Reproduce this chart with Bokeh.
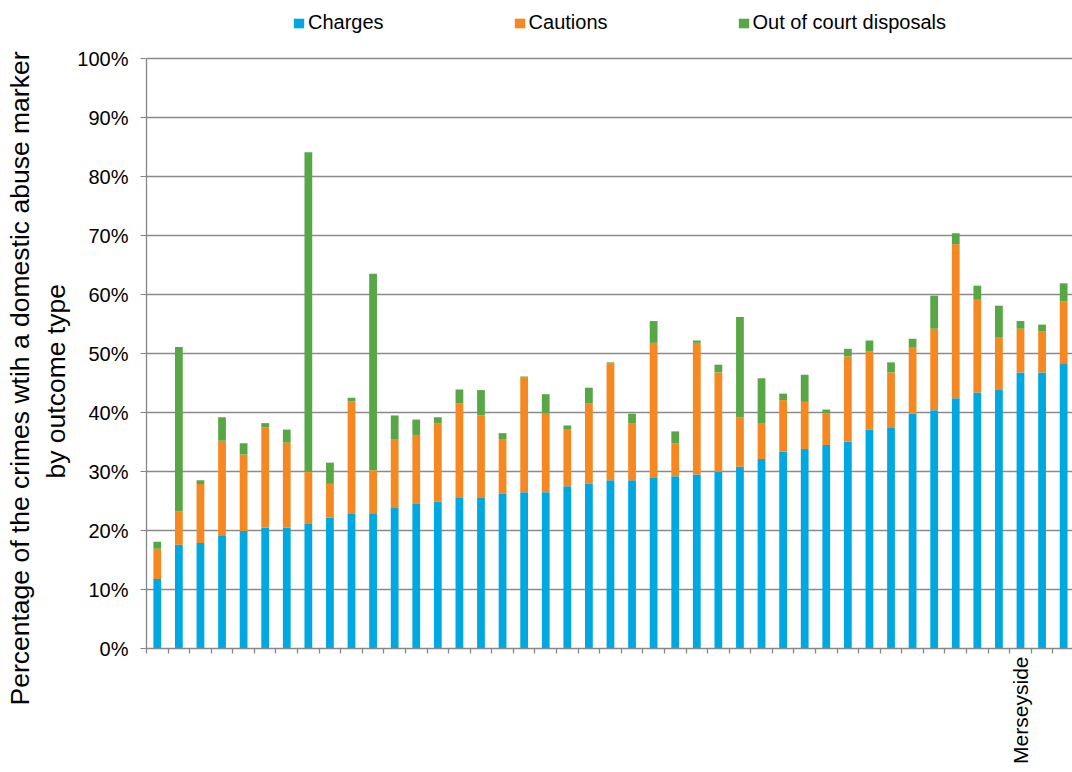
import math
from bokeh.plotting import figure
from bokeh.models import (ColumnDataSource, Range1d, FixedTicker, Legend, LegendItem, Title)
from bokeh.embed import file_html
from bokeh.resources import INLINE

# ---------------- data ----------------
series_names = ["Charges", "Cautions", "Out of court disposals"]
charges = [11.8, 17.6, 17.9, 19.2, 19.9, 20.5, 20.5, 21.1, 22.2, 22.8, 22.8, 23.8, 24.5,
           24.9, 25.5, 25.5, 26.2, 26.5, 26.5, 27.5, 27.9, 28.5, 28.5, 28.9, 29.2, 29.5,
           29.9, 30.8, 32.1, 33.4, 33.8, 34.5, 35.1, 37.1, 37.5, 39.8, 40.4, 42.4, 43.4,
           43.8, 46.8, 46.8, 48.2]
cautions = [5.1, 5.6, 10.0, 16.0, 13.0, 17.0, 14.4, 8.8, 5.7, 19.1, 7.4, 11.7, 11.7,
            13.3, 16.0, 14.0, 9.3, 19.4, 13.3, 9.7, 13.6, 19.8, 9.7, 22.9, 5.6, 22.3,
            16.9, 8.4, 6.0, 8.7, 8.0, 5.4, 14.4, 13.3, 9.3, 11.3, 13.8, 26.1, 15.7,
            9.0, 7.4, 7.0, 10.6]
out_of_court = [1.2, 27.9, 0.6, 4.0, 1.9, 0.7, 2.2, 54.2, 3.6, 0.6, 33.3, 4.0, 2.6,
                1.0, 2.4, 4.3, 1.0, 0.2, 3.3, 0.6, 2.7, 0.2, 1.6, 3.7, 2.0, 0.4,
                1.3, 17.0, 7.7, 1.1, 4.6, 0.6, 1.3, 1.8, 1.7, 1.4, 5.6, 1.9, 2.4,
                5.3, 1.3, 1.1, 3.1]
# category labels (only one force is named on the axis)
categories = [""] * 40 + ["Merseyside"] + [""] * 2
y_ticks = [0, 10, 20, 30, 40, 50, 60, 70, 80, 90, 100]
y_tick_labels = {t: f"{t}%" for t in y_ticks}
y_title_lines = ["Percentage of the crimes wtih a domestic abuse marker", "by outcome type"]
colors = ["#00A8E1", "#F58820", "#58A746"]

# ---------------- figure ----------------
FONT = "Liberation Sans"
GREY = "#868686"
n = len(charges)
px_per_cat = 21.58
top_b, left_b, bottom_b = 8, 146, 124
fig_w, fig_h = 1072, 772
frame_w = fig_w - left_b
frame_h = fig_h - bottom_b - top_b

p = figure(width=fig_w, height=fig_h, output_backend="svg", toolbar_location=None,
           x_range=Range1d(-0.5, -0.5 + frame_w / px_per_cat),
           y_range=Range1d(0, frame_h / 5.9),
           min_border_left=left_b, min_border_right=0, min_border_top=top_b,
           min_border_bottom=bottom_b)
p.outline_line_color = None
p.background_fill_color = "white"
p.border_fill_color = "white"

src = ColumnDataSource(dict(x=list(range(n)), Charges=charges, Cautions=cautions,
                            **{"Out of court disposals": out_of_court}))
rs = p.vbar_stack(series_names, x="x", width=0.36, source=src, color=colors,
                  line_color=None)

# y axis
yax = p.yaxis[0]
yax.ticker = FixedTicker(ticks=y_ticks)
yax.major_label_overrides = y_tick_labels
yax.bounds = (0, 100)
yax.axis_line_color = GREY
yax.axis_line_width = 1.3
yax.major_tick_line_color = GREY
yax.major_tick_out = 6
yax.major_tick_in = 0
yax.minor_tick_line_color = None
yax.major_label_text_font = FONT
yax.major_label_text_font_size = "20px"
yax.major_label_text_color = "black"
yax.major_label_standoff = 12

# y-axis title: two lines, each as a left-side title (line 2 nearer the plot)
for txt, off, standoff in [(y_title_lines[1], 170, 8), (y_title_lines[0], -57, 0)]:
    t = Title(text=txt, align="left", offset=off, standoff=standoff,
              text_font=FONT, text_font_size="26.5px", text_font_style="normal",
              text_color="black")
    p.add_layout(t, "left")

# x axis
xax = p.xaxis[0]
label_pos = [i for i, c in enumerate(categories) if c]
xax.ticker = FixedTicker(ticks=label_pos, minor_ticks=[i - 0.5 for i in range(n + 1)])
xax.major_label_overrides = {i: categories[i] for i in label_pos}
xax.major_label_orientation = math.pi / 2
xax.major_tick_out = 0
xax.major_tick_in = 0
xax.minor_tick_out = 5
xax.minor_tick_in = 0
xax.minor_tick_line_color = GREY
xax.minor_tick_line_width = 1.3
xax.axis_line_color = GREY
xax.axis_line_width = 1.3
xax.major_label_text_font = FONT
xax.major_label_text_font_size = "21px"
xax.major_label_text_color = "black"
xax.major_label_standoff = 3

p.xgrid.grid_line_color = None
p.ygrid.ticker = FixedTicker(ticks=y_ticks)
p.ygrid.grid_line_color = "#8a8a8a"
p.ygrid.grid_line_width = 1.4

legend = Legend(items=[LegendItem(label=nm, renderers=[r]) for nm, r in zip(series_names, rs)],
                orientation="horizontal", location=(146, 614))
legend.label_text_font = FONT
legend.label_text_font_size = "20px"
legend.label_text_color = "black"
legend.glyph_width = 13
legend.glyph_height = 12
legend.label_standoff = 3
legend.spacing = 129
legend.padding = 0
legend.margin = 0
legend.border_line_color = None
legend.background_fill_alpha = 0
p.add_layout(legend)

open("out.html", "w").write(file_html(p, INLINE))
